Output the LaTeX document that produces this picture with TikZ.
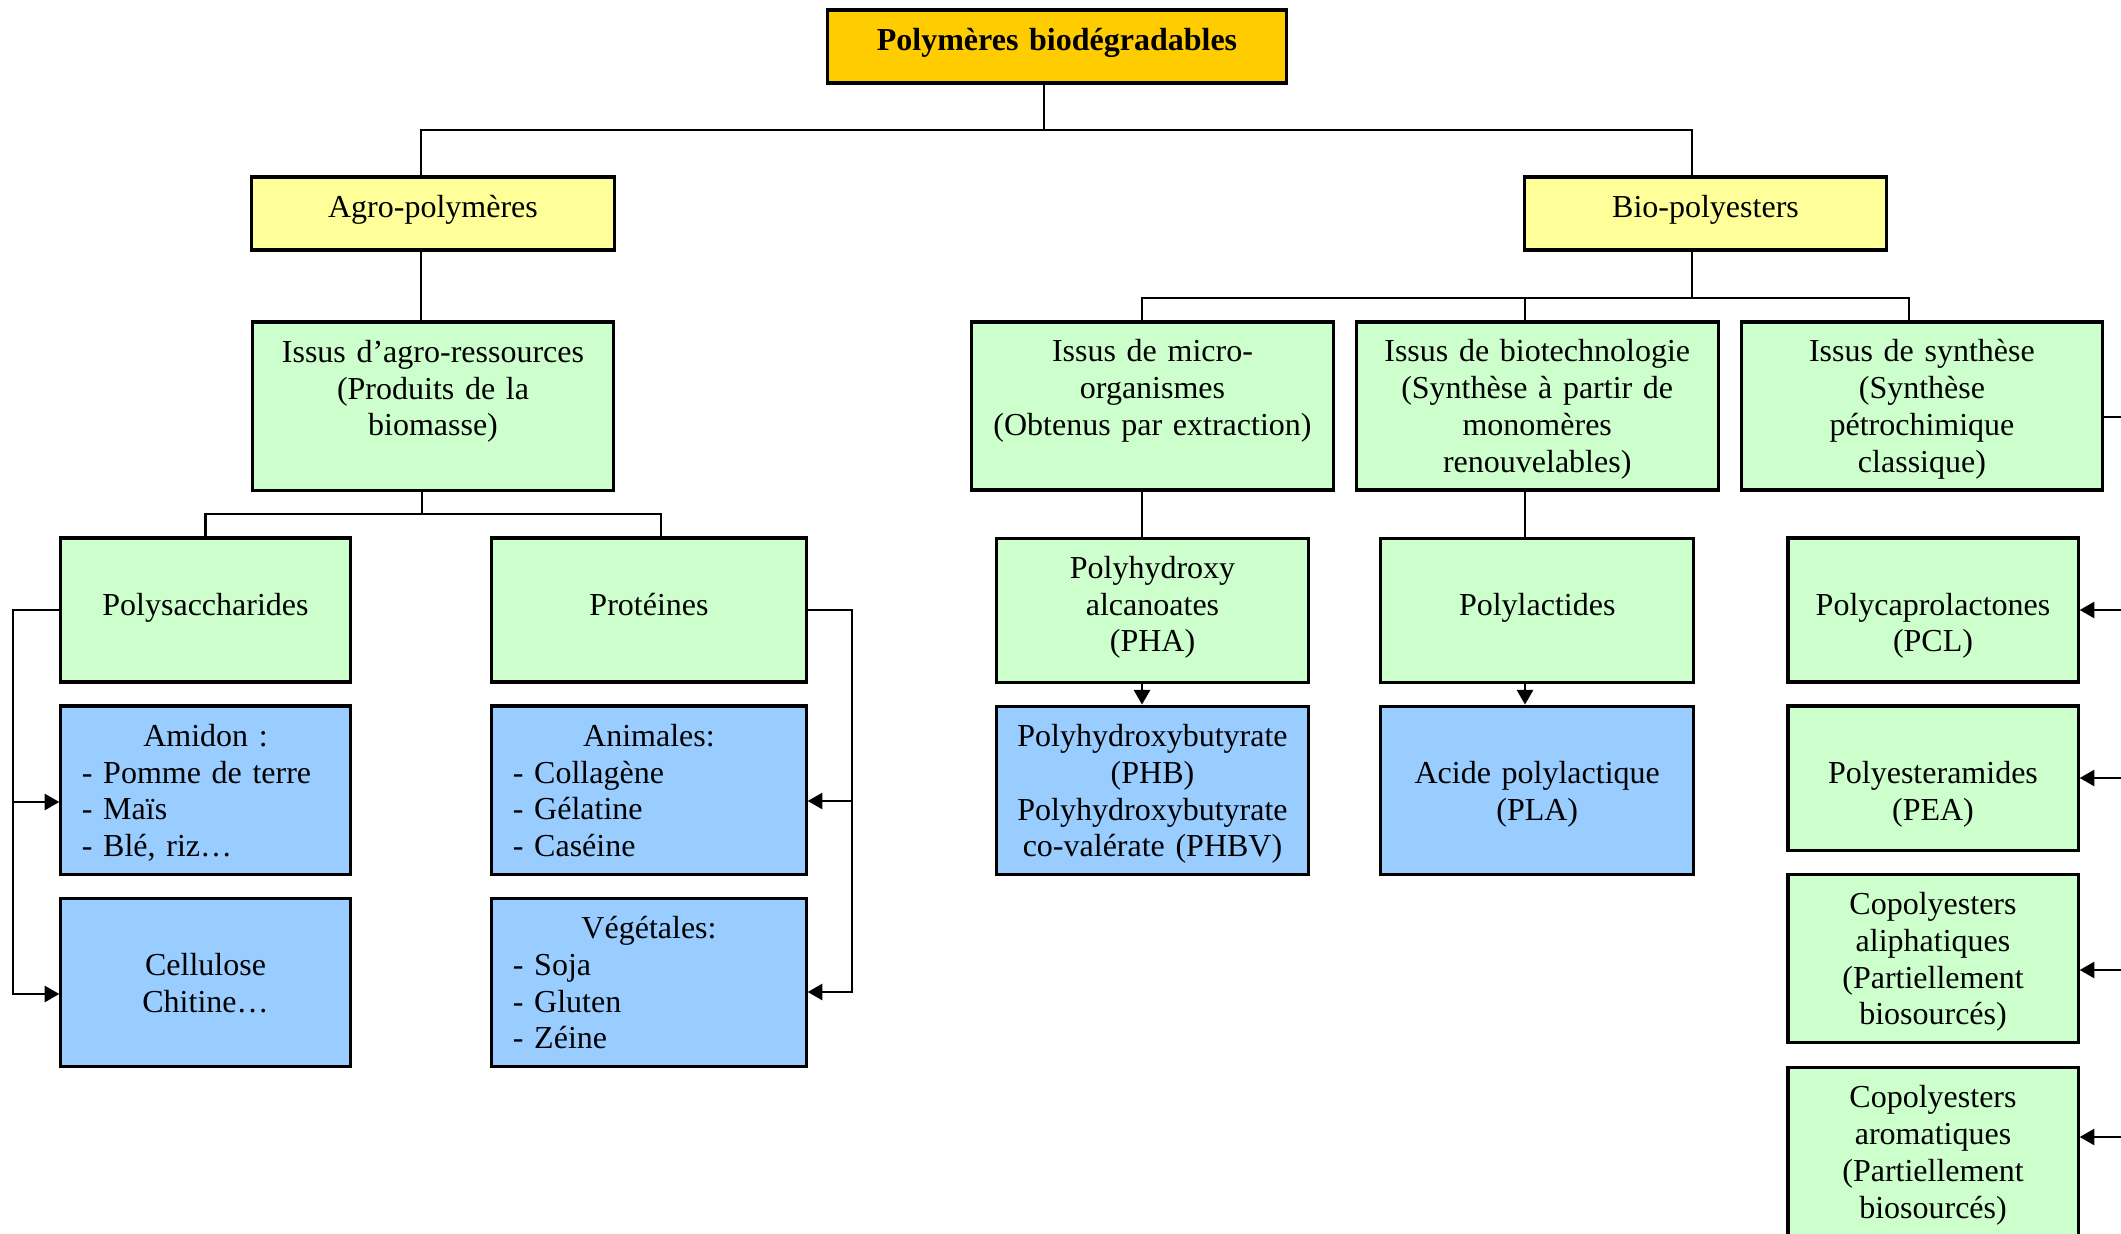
\documentclass[tikz,border=0pt]{standalone}
\usepackage{fontspec}
\setmainfont{Liberation Serif}
\usepackage{tikz}
\usetikzlibrary{arrows.meta,positioning}
\definecolor{gold}{HTML}{FFCC00}
\definecolor{jaune}{HTML}{FFFF99}
\definecolor{vert}{HTML}{CCFFCC}
\definecolor{bleu}{HTML}{99CCFF}
\newcommand{\boxfont}{\fontsize{9.1}{10.5}\selectfont}
\tikzstyle{block} = [draw, fill=vert, rectangle, line width=0.9pt,
    inner sep=0pt, align=center, font=\boxfont]
\tikzstyle{bblock} = [block, fill=bleu]
\tikzstyle{yblock} = [block, fill=jaune, text height=0.40cm, text depth=0.33cm]
\tikzstyle{tblock} = [yblock, fill=gold, font=\boxfont\bfseries]
\tikzstyle{hshort} = [text height=0.40cm, text depth=1.04cm]
\tikzstyle{htall} = [text height=0.40cm, text depth=1.28cm]
\tikzstyle{hshortpad} = [text height=0.77cm, text depth=0.67cm]
\tikzstyle{htallpad} = [text height=0.77cm, text depth=0.91cm]
\tikzstyle{liste} = [align=left, inner xsep=0.21cm]
\tikzstyle{line} = [draw, line width=0.7pt]

\begin{document}
\begin{tikzpicture}[x=0.01cm, y=-0.01cm, >={Triangle[length=4.2pt,width=4.6pt]}]
    \useasboundingbox (0,0) rectangle (2121,1233);
    % top of the tree
    \node [tblock, text width=4.58cm] (root) at (1057,46.5) {Polymères biodégradables};
    \node [yblock, text width=3.62cm] (agro) at (433,213.5) {Agro-polymères};
    \node [yblock, text width=3.61cm] (bio) at (1705.5,213.5) {Bio-polyesters};
    % where the polymers come from
    \node [block, htall, text width=3.6cm, below of=agro, node distance=1.925cm] (agres) {Issus d’agro-ressources\\(Produits de la\\biomasse)};
    \node [block, htall, text width=3.61cm] (micro) at (1152.5,406) {Issus de micro-\\organismes\\(Obtenus par extraction)};
    \node [block, htall, text width=3.62cm, right of=micro, node distance=3.845cm] (biotech) {Issus de biotechnologie\\(Synthèse à partir de\\monomères\\renouvelables)};
    \node [block, htall, text width=3.61cm, right of=biotech, node distance=3.845cm] (synth) {Issus de synthèse\\(Synthèse\\pétrochimique\\classique)};
    % agro-polymers
    \node [block, hshortpad, text width=2.89cm] (polys) at (205.5,610) {Polysaccharides};
    \node [block, hshortpad, text width=3.14cm] (prot) at (649,610) {Protéines};
    \node [bblock, htall, liste, text width=2.47cm, below of=polys, node distance=1.8cm] (amidon) {\makebox[\linewidth]{Amidon :}\\- Pomme de terre\\- Maïs\\- Blé, riz…};
    \node [bblock, htallpad, text width=2.89cm, below of=amidon, node distance=1.92cm] (cell) {Cellulose\\Chitine…};
    \node [bblock, htall, liste, text width=2.72cm, below of=prot, node distance=1.8cm] (anim) {\makebox[\linewidth]{Animales:}\\- Collagène\\- Gélatine\\- Caséine};
    \node [bblock, htall, liste, text width=2.72cm, below of=anim, node distance=1.92cm] (veg) {\makebox[\linewidth]{Végétales:}\\- Soja\\- Gluten\\- Zéine};
    % bio-polyesters
    \node [block, hshort, text width=3.12cm, below of=micro, node distance=2.04cm] (pha) {Polyhydroxy\\alcanoates\\(PHA)};
    \node [bblock, htall, text width=3.12cm, below of=pha, node distance=1.8cm] (phb) {Polyhydroxybutyrate\\(PHB)\\Polyhydroxybutyrate\\co-valérate (PHBV)};
    \node [block, hshortpad, text width=3.13cm, below of=biotech, node distance=2.04cm] (polyl) {Polylactides};
    \node [bblock, htallpad, text width=3.13cm, below of=polyl, node distance=1.8cm] (pla) {Acide polylactique\\(PLA)};
    \node [block, hshortpad, text width=2.9cm] (pcl) at (1933,610) {Polycaprolactones\\(PCL)};
    \node [block, hshortpad, text width=2.9cm, below of=pcl, node distance=1.68cm] (pea) {Polyesteramides\\(PEA)};
    \node [block, htall, text width=2.9cm, below of=pea, node distance=1.8cm] (aliph) {Copolyesters\\aliphatiques\\(Partiellement\\biosourcés)};
    \node [block, htall, text width=2.9cm, below of=aliph, node distance=1.93cm] (arom) {Copolyesters\\aromatiques\\(Partiellement\\biosourcés)};
    % the elbows of the tree
    \coordinate (j0) at (1044,130);
    \coordinate (jA) at (421,130);
    \coordinate (jB) at (1692,130);
    \coordinate (jR) at (422,514);
    \coordinate (jP) at (661,514);
    \coordinate (jB2) at (1692,298);
    \coordinate (jM) at (1142,298);
    \coordinate (jT) at (1525,298);
    \coordinate (jS) at (1909,298);
    \draw [line] (root.south -| j0) -- (j0);
    \draw [line] (agro.north -| jA) |- (jB) -- (bio.north -| jB);
    \draw [line] (agro.south -| jA) -- (agres.north -| jA);
    \draw [line] (agres.south -| jR) -- (jR);
    \draw [line] (polys.north) |- (jP) -- (prot.north -| jP);
    \draw [line] (bio.south -| jB2) -- (jB2);
    \draw [line] (micro.north -| jM) |- (jS) -- (synth.north -| jS);
    \draw [line] (jT) -- (biotech.north -| jT);
    \draw [line] (micro.south -| jM) -- (pha.north -| jM);
    \draw [line,->] (pha.south -| jM) -- (phb.north -| jM);
    \draw [line] (biotech.south -| jT) -- (polyl.north -| jT);
    \draw [line,->] (polyl.south -| jT) -- (pla.north -| jT);
    % side branches of polysaccharides and proteins
    \coordinate (lA) at (13,802);
    \coordinate (lC) at (13,994);
    \draw [line,->] (polys.west) -| (lC) -- (cell.west |- lC);
    \draw [line,->] (lA) -- (amidon.west |- lA);
    \coordinate (rA) at (852,801);
    \coordinate (rV) at (852,992);
    \draw [line,->] (prot.east) -| (rV) -- (veg.east |- rV);
    \draw [line,->] (rA) -- (anim.east |- rA);
    % lines running out on the right
    \coordinate (eS) at (2121,417);
    \coordinate (e1) at (2121,610);
    \coordinate (e2) at (2121,778);
    \coordinate (e3) at (2121,970);
    \coordinate (e4) at (2121,1137);
    \draw [line] (synth.east |- eS) -- (eS);
    \draw [line,->] (e1) -- (pcl.east |- e1);
    \draw [line,->] (e2) -- (pea.east |- e2);
    \draw [line,->] (e3) -- (aliph.east |- e3);
    \draw [line,->] (e4) -- (arom.east |- e4);
\end{tikzpicture}
\end{document}
